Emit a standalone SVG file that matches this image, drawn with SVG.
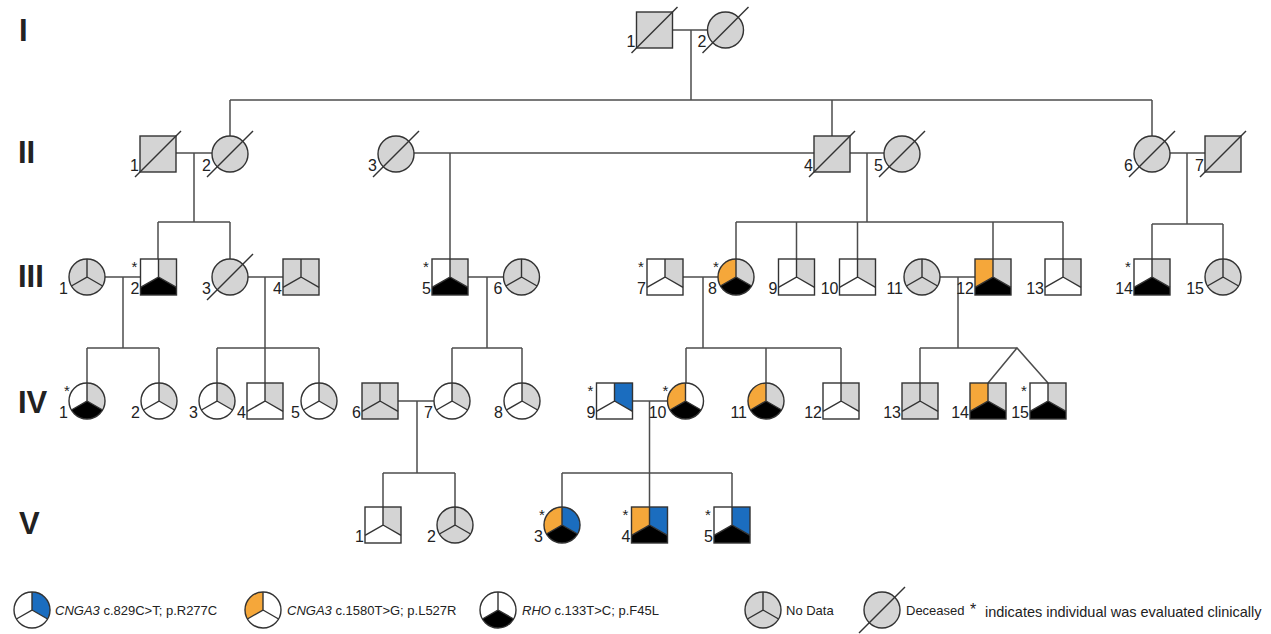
<svg xmlns="http://www.w3.org/2000/svg" xmlns:xlink="http://www.w3.org/1999/xlink" width="1271" height="634" viewBox="0 0 1271 634">
<style>
.o{fill:none;stroke:#333;stroke-width:1.4}
.g{fill:#d4d4d4}
.w{fill:#fff}
.k{fill:#000}
.y{fill:#f5a73a}
.b{fill:#1b6dbf}
.sl{stroke:#333;stroke-width:1.4}
.n{font-family:"Liberation Sans",Arial,sans-serif;font-size:16px;fill:#222;text-anchor:end}
.a{font-family:"Liberation Sans",Arial,sans-serif;font-size:15px;fill:#222;text-anchor:middle}
.gen{font-family:"Liberation Sans",Arial,sans-serif;font-size:31px;font-weight:bold;fill:#222}
.lg{font-family:"Liberation Sans",Arial,sans-serif;font-size:13px;fill:#222}
.lg2{font-family:"Liberation Sans",Arial,sans-serif;font-size:14.5px;fill:#222}
#conn path{fill:none;stroke:#4d4d4d;stroke-width:1.5}
</style>
<defs>
<path id="cUL" d="M0,0 V-18 A18,18 0 0 0 -15.59,9 Z"/>
<path id="cUR" d="M0,0 V-18 A18,18 0 0 1 15.59,9 Z"/>
<path id="cB" d="M0,0 L-15.59,9 A18,18 0 0 0 15.59,9 Z"/>
<path id="sUL" d="M0,0 V-18 H-18 V10.39 Z"/>
<path id="sUR" d="M0,0 V-18 H18 V10.39 Z"/>
<path id="sB" d="M0,0 L-18,10.39 V18 H18 V10.39 Z"/>
<path id="cDiv" d="M0,-18 V0 L-15.59,9 M0,0 L15.59,9"/>
<path id="sDiv" d="M0,-18 V0 L-18,10.39 M0,0 L18,10.39"/>
<circle id="cOut" r="18"/>
<rect id="sOut" x="-18" y="-18" width="36" height="36"/>
<path id="slash" d="M-23,23 L23,-23"/>
</defs>

<g id="generations">
<text class="gen" x="19" y="41">I</text>
<text class="gen" x="18" y="163">II</text>
<text class="gen" x="18" y="287">III</text>
<text class="gen" x="18" y="413">IV</text>
<text class="gen" x="19" y="534">V</text>
</g>

<g id="conn">
<path d="M672.5,30 H707.5 M691,30 V100 M230,100 H1152 M230,100 V136 M832,100 V136 M1152,100 V136"/>
<path d="M176,153 H212 M194,153 V222 M158,222 H230 M158,222 V259 M230,222 V259"/>
<path d="M414,153 H814 M450,153 V259"/>
<path d="M850,153 H884 M867,153 V222 M736,222 H1063 M736,222 V259 M796.5,222 V259 M857.5,222 V259 M993,222 V259 M1063,222 V259"/>
<path d="M1170,153 H1205 M1187,153 V224 M1152,224 H1223 M1152,224 V259 M1223,224 V259"/>
<path d="M105,277 H140.5 M123,277 V348 M87,348 H159 M87,348 V383 M159,348 V383"/>
<path d="M248,277 H283 M265,277 V383 M217,348 H319 M217,348 V383 M319,348 V383"/>
<path d="M468,277 H503.5 M487,277 V348 M452,348 H522 M452,348 V383 M522,348 V383"/>
<path d="M683,277 H718 M703,277 V348 M686,348 H841 M686,348 V383 M766,348 V383 M841,348 V383"/>
<path d="M940,277 H975 M958,277 V348 M920,348 H1017 M920,348 V383 M988,383 L1017,348 L1048,383"/>
<path d="M398,401 H434 M417,401 V473 M383,473 H455 M383,473 V507 M455,473 V507"/>
<path d="M632.5,401 H667.5 M649.5,401 V507 M562,473 H732 M562,473 V507 M732,473 V507"/>
</g>

<!-- Generation I -->
<g id="I-1" transform="translate(654.5,30)"><use href="#sOut" class="g"/><use href="#sOut" class="o"/><use href="#slash" class="sl"/><text class="n" x="-19" y="17">1</text></g>
<g id="I-2" transform="translate(725.5,30)"><use href="#cOut" class="g"/><use href="#cOut" class="o"/><use href="#slash" class="sl"/><text class="n" x="-19" y="17">2</text></g>

<!-- Generation II -->
<g id="II-1" transform="translate(158,154)"><use href="#sOut" class="g"/><use href="#sOut" class="o"/><use href="#slash" class="sl"/><text class="n" x="-19" y="17">1</text></g>
<g id="II-2" transform="translate(230,154)"><use href="#cOut" class="g"/><use href="#cOut" class="o"/><use href="#slash" class="sl"/><text class="n" x="-19" y="17">2</text></g>
<g id="II-3" transform="translate(396,154)"><use href="#cOut" class="g"/><use href="#cOut" class="o"/><use href="#slash" class="sl"/><text class="n" x="-19" y="17">3</text></g>
<g id="II-4" transform="translate(832,154)"><use href="#sOut" class="g"/><use href="#sOut" class="o"/><use href="#slash" class="sl"/><text class="n" x="-19" y="17">4</text></g>
<g id="II-5" transform="translate(902,154)"><use href="#cOut" class="g"/><use href="#cOut" class="o"/><use href="#slash" class="sl"/><text class="n" x="-19" y="17">5</text></g>
<g id="II-6" transform="translate(1152,154)"><use href="#cOut" class="g"/><use href="#cOut" class="o"/><use href="#slash" class="sl"/><text class="n" x="-19" y="17">6</text></g>
<g id="II-7" transform="translate(1223,154)"><use href="#sOut" class="g"/><use href="#sOut" class="o"/><use href="#slash" class="sl"/><text class="n" x="-19" y="17">7</text></g>

<!-- Generation III -->
<g id="III-1" transform="translate(87,277)"><use href="#cOut" class="g"/><use href="#cDiv" class="o"/><use href="#cOut" class="o"/><text class="n" x="-19" y="17">1</text></g>
<g id="III-2" transform="translate(158.5,277)"><use href="#sUL" class="w"/><use href="#sUR" class="g"/><use href="#sB" class="k"/><use href="#sDiv" class="o"/><use href="#sOut" class="o"/><text class="n" x="-19" y="17">2</text><text class="a" x="-24" y="-5">*</text></g>
<g id="III-3" transform="translate(230,277)"><use href="#cOut" class="g"/><use href="#cOut" class="o"/><use href="#slash" class="sl"/><text class="n" x="-19" y="17">3</text></g>
<g id="III-4" transform="translate(301,277)"><use href="#sOut" class="g"/><use href="#sDiv" class="o"/><use href="#sOut" class="o"/><text class="n" x="-19" y="17">4</text></g>
<g id="III-5" transform="translate(450,277)"><use href="#sUL" class="w"/><use href="#sUR" class="g"/><use href="#sB" class="k"/><use href="#sDiv" class="o"/><use href="#sOut" class="o"/><text class="n" x="-19" y="17">5</text><text class="a" x="-24" y="-5">*</text></g>
<g id="III-6" transform="translate(521.5,277)"><use href="#cOut" class="g"/><use href="#cDiv" class="o"/><use href="#cOut" class="o"/><text class="n" x="-19" y="17">6</text></g>
<g id="III-7" transform="translate(665,277)"><use href="#sUL" class="w"/><use href="#sUR" class="g"/><use href="#sB" class="w"/><use href="#sDiv" class="o"/><use href="#sOut" class="o"/><text class="n" x="-19" y="17">7</text><text class="a" x="-24" y="-5">*</text></g>
<g id="III-8" transform="translate(736,277)"><use href="#cUL" class="y"/><use href="#cUR" class="g"/><use href="#cB" class="k"/><use href="#cDiv" class="o"/><use href="#cOut" class="o"/><text class="n" x="-19" y="17">8</text><text class="a" x="-20" y="-5">*</text></g>
<g id="III-9" transform="translate(796.5,277)"><use href="#sUL" class="w"/><use href="#sUR" class="g"/><use href="#sB" class="w"/><use href="#sDiv" class="o"/><use href="#sOut" class="o"/><text class="n" x="-19" y="17">9</text></g>
<g id="III-10" transform="translate(857.5,277)"><use href="#sUL" class="w"/><use href="#sUR" class="g"/><use href="#sB" class="w"/><use href="#sDiv" class="o"/><use href="#sOut" class="o"/><text class="n" x="-19" y="17">10</text></g>
<g id="III-11" transform="translate(922,277)"><use href="#cOut" class="g"/><use href="#cDiv" class="o"/><use href="#cOut" class="o"/><text class="n" x="-19" y="17">11</text></g>
<g id="III-12" transform="translate(993,277)"><use href="#sUL" class="y"/><use href="#sUR" class="g"/><use href="#sB" class="k"/><use href="#sDiv" class="o"/><use href="#sOut" class="o"/><text class="n" x="-19" y="17">12</text></g>
<g id="III-13" transform="translate(1063,277)"><use href="#sUL" class="w"/><use href="#sUR" class="g"/><use href="#sB" class="w"/><use href="#sDiv" class="o"/><use href="#sOut" class="o"/><text class="n" x="-19" y="17">13</text></g>
<g id="III-14" transform="translate(1152,277)"><use href="#sUL" class="w"/><use href="#sUR" class="g"/><use href="#sB" class="k"/><use href="#sDiv" class="o"/><use href="#sOut" class="o"/><text class="n" x="-19" y="17">14</text><text class="a" x="-24" y="-5">*</text></g>
<g id="III-15" transform="translate(1223,277)"><use href="#cOut" class="g"/><use href="#cDiv" class="o"/><use href="#cOut" class="o"/><text class="n" x="-19" y="17">15</text></g>

<!-- Generation IV -->
<g id="IV-1" transform="translate(87,401)"><use href="#cUL" class="w"/><use href="#cUR" class="g"/><use href="#cB" class="k"/><use href="#cDiv" class="o"/><use href="#cOut" class="o"/><text class="n" x="-19" y="17">1</text><text class="a" x="-20" y="-5">*</text></g>
<g id="IV-2" transform="translate(159,401)"><use href="#cUL" class="w"/><use href="#cUR" class="g"/><use href="#cB" class="w"/><use href="#cDiv" class="o"/><use href="#cOut" class="o"/><text class="n" x="-19" y="17">2</text></g>
<g id="IV-3" transform="translate(217,401)"><use href="#cUL" class="w"/><use href="#cUR" class="g"/><use href="#cB" class="w"/><use href="#cDiv" class="o"/><use href="#cOut" class="o"/><text class="n" x="-19" y="17">3</text></g>
<g id="IV-4" transform="translate(265,401)"><use href="#sUL" class="w"/><use href="#sUR" class="g"/><use href="#sB" class="w"/><use href="#sDiv" class="o"/><use href="#sOut" class="o"/><text class="n" x="-19" y="17">4</text></g>
<g id="IV-5" transform="translate(319,401)"><use href="#cUL" class="w"/><use href="#cUR" class="g"/><use href="#cB" class="w"/><use href="#cDiv" class="o"/><use href="#cOut" class="o"/><text class="n" x="-19" y="17">5</text></g>
<g id="IV-6" transform="translate(380,401)"><use href="#sOut" class="g"/><use href="#sDiv" class="o"/><use href="#sOut" class="o"/><text class="n" x="-19" y="17">6</text></g>
<g id="IV-7" transform="translate(452,401)"><use href="#cUL" class="w"/><use href="#cUR" class="g"/><use href="#cB" class="w"/><use href="#cDiv" class="o"/><use href="#cOut" class="o"/><text class="n" x="-19" y="17">7</text></g>
<g id="IV-8" transform="translate(522,401)"><use href="#cUL" class="w"/><use href="#cUR" class="g"/><use href="#cB" class="w"/><use href="#cDiv" class="o"/><use href="#cOut" class="o"/><text class="n" x="-19" y="17">8</text></g>
<g id="IV-9" transform="translate(614.5,401)"><use href="#sUL" class="w"/><use href="#sUR" class="b"/><use href="#sB" class="w"/><use href="#sDiv" class="o"/><use href="#sOut" class="o"/><text class="n" x="-19" y="17">9</text><text class="a" x="-24" y="-5">*</text></g>
<g id="IV-10" transform="translate(685.5,401)"><use href="#cUL" class="y"/><use href="#cUR" class="w"/><use href="#cB" class="k"/><use href="#cDiv" class="o"/><use href="#cOut" class="o"/><text class="n" x="-19" y="17">10</text><text class="a" x="-20" y="-5">*</text></g>
<g id="IV-11" transform="translate(766,401)"><use href="#cUL" class="y"/><use href="#cUR" class="g"/><use href="#cB" class="k"/><use href="#cDiv" class="o"/><use href="#cOut" class="o"/><text class="n" x="-19" y="17">11</text></g>
<g id="IV-12" transform="translate(841,401)"><use href="#sUL" class="w"/><use href="#sUR" class="g"/><use href="#sB" class="w"/><use href="#sDiv" class="o"/><use href="#sOut" class="o"/><text class="n" x="-19" y="17">12</text></g>
<g id="IV-13" transform="translate(920,401)"><use href="#sOut" class="g"/><use href="#sDiv" class="o"/><use href="#sOut" class="o"/><text class="n" x="-19" y="17">13</text></g>
<g id="IV-14" transform="translate(988,401)"><use href="#sUL" class="y"/><use href="#sUR" class="g"/><use href="#sB" class="k"/><use href="#sDiv" class="o"/><use href="#sOut" class="o"/><text class="n" x="-19" y="17">14</text></g>
<g id="IV-15" transform="translate(1048,401)"><use href="#sUL" class="w"/><use href="#sUR" class="g"/><use href="#sB" class="k"/><use href="#sDiv" class="o"/><use href="#sOut" class="o"/><text class="n" x="-19" y="17">15</text><text class="a" x="-24" y="-5">*</text></g>

<!-- Generation V -->
<g id="V-1" transform="translate(383,525)"><use href="#sUL" class="w"/><use href="#sUR" class="g"/><use href="#sB" class="w"/><use href="#sDiv" class="o"/><use href="#sOut" class="o"/><text class="n" x="-19" y="17">1</text></g>
<g id="V-2" transform="translate(455,525)"><use href="#cOut" class="g"/><use href="#cDiv" class="o"/><use href="#cOut" class="o"/><text class="n" x="-19" y="17">2</text></g>
<g id="V-3" transform="translate(562,525)"><use href="#cUL" class="y"/><use href="#cUR" class="b"/><use href="#cB" class="k"/><use href="#cDiv" class="o"/><use href="#cOut" class="o"/><text class="n" x="-19" y="17">3</text><text class="a" x="-20" y="-5">*</text></g>
<g id="V-4" transform="translate(649.5,525)"><use href="#sUL" class="y"/><use href="#sUR" class="b"/><use href="#sB" class="k"/><use href="#sDiv" class="o"/><use href="#sOut" class="o"/><text class="n" x="-19" y="17">4</text><text class="a" x="-24" y="-5">*</text></g>
<g id="V-5" transform="translate(732,525)"><use href="#sUL" class="w"/><use href="#sUR" class="b"/><use href="#sB" class="k"/><use href="#sDiv" class="o"/><use href="#sOut" class="o"/><text class="n" x="-19" y="17">5</text><text class="a" x="-24" y="-5">*</text></g>

<!-- Legend -->
<g id="legend">
<g id="legend-blue" transform="translate(32,610)"><use href="#cUL" class="w"/><use href="#cUR" class="b"/><use href="#cB" class="w"/><use href="#cDiv" class="o"/><use href="#cOut" class="o"/></g>
<text class="lg" x="55" y="615"><tspan font-style="italic">CNGA3</tspan> c.829C&gt;T; p.R277C</text>
<g id="legend-orange" transform="translate(263,610)"><use href="#cUL" class="y"/><use href="#cUR" class="w"/><use href="#cB" class="w"/><use href="#cDiv" class="o"/><use href="#cOut" class="o"/></g>
<text class="lg" x="287" y="615"><tspan font-style="italic">CNGA3</tspan> c.1580T&gt;G; p.L527R</text>
<g id="legend-black" transform="translate(498,610)"><use href="#cUL" class="w"/><use href="#cUR" class="w"/><use href="#cB" class="k"/><use href="#cDiv" class="o"/><use href="#cOut" class="o"/></g>
<text class="lg" x="522" y="615"><tspan font-style="italic">RHO</tspan> c.133T&gt;C; p.F45L</text>
<g id="legend-nodata" transform="translate(763,610)"><use href="#cOut" class="g"/><use href="#cDiv" class="o"/><use href="#cOut" class="o"/></g>
<text class="lg" x="786" y="615">No Data</text>
<g id="legend-deceased" transform="translate(882,610)"><use href="#cOut" class="g"/><use href="#cOut" class="o"/><use href="#slash" class="sl"/></g>
<text class="lg" x="906" y="615">Deceased</text>
<text class="lg2" x="970" y="615" style="font-size:16px">*</text>
<text class="lg2" x="985" y="617">indicates individual was evaluated clinically</text>
</g>
</svg>
